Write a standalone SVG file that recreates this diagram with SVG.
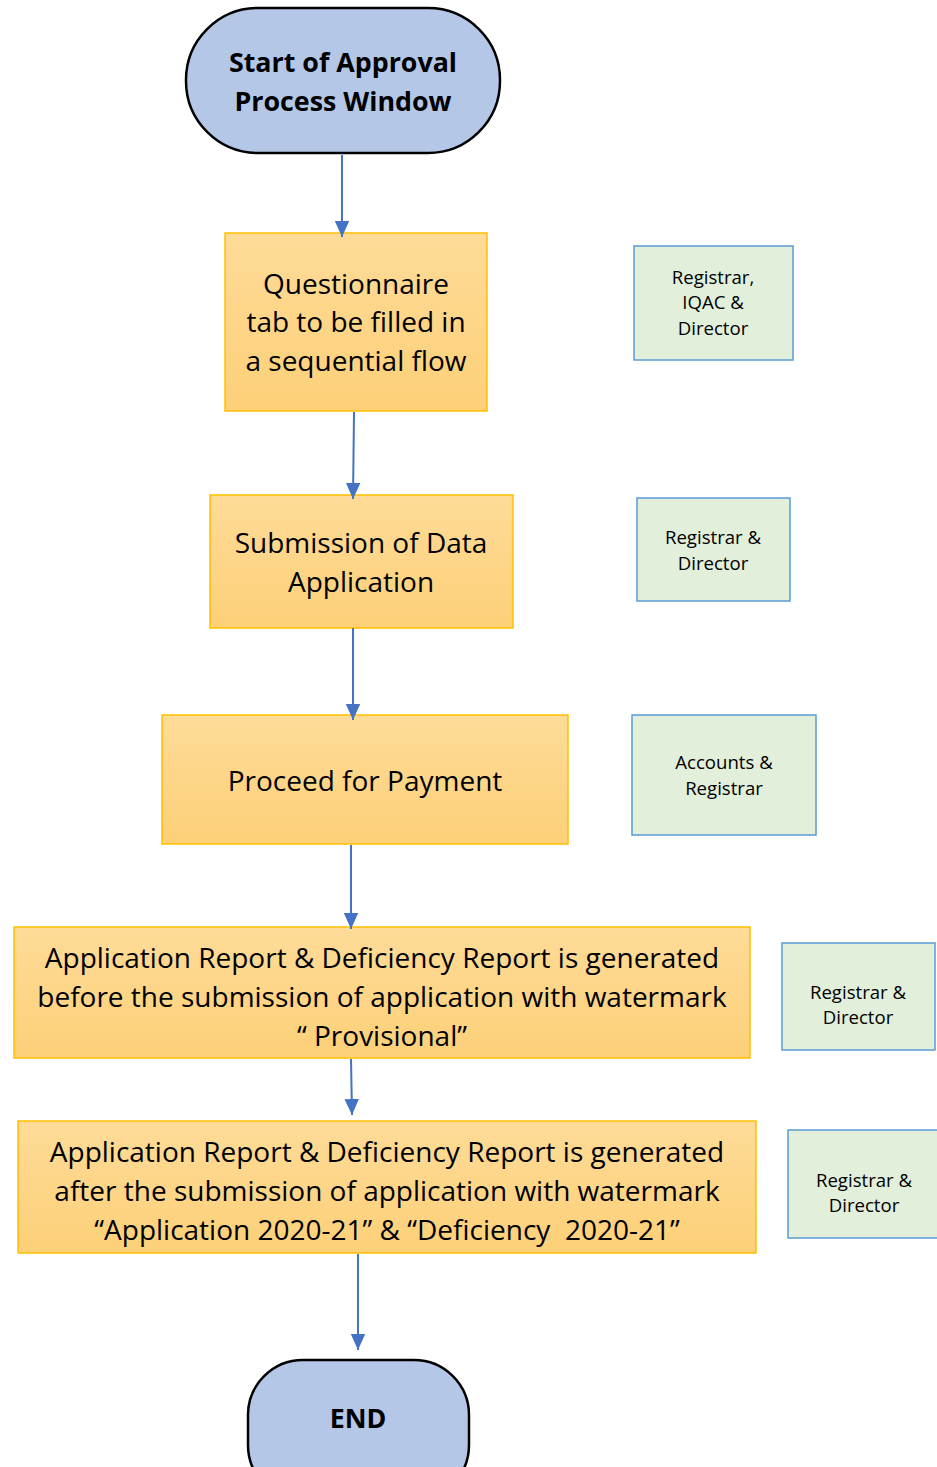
<svg xmlns="http://www.w3.org/2000/svg" width="937" height="1467" viewBox="0 0 937 1467">
  <style>
    .term { fill: #b4c7e7; stroke: #000; stroke-width: 2.5; }
    .step { fill: url(#stepFill); stroke: #ffc000; stroke-width: 1.5; }
    .role { fill: #e2efda; stroke: #5b9bd5; stroke-width: 1.5; }
    .conn { stroke: #4472c4; stroke-width: 2; fill: none; marker-end: url(#arrow); }
    text { font-family: "Open Sans", "Noto Sans", "Liberation Sans", sans-serif; fill: #000; text-anchor: middle; }
    .tt { font-size: 26.8px; font-weight: bold; }
    .st { font-size: 28px; }
    .rt { font-size: 18.6px; }
  </style>
  <defs>
    <linearGradient id="stepFill" x1="0" y1="0" x2="0" y2="1">
      <stop offset="0" stop-color="#fedb98"/>
      <stop offset="1" stop-color="#fdd078"/>
    </linearGradient>
    <marker id="arrow" viewBox="0 0 10 10" refX="10" refY="5" markerWidth="16" markerHeight="16" markerUnits="userSpaceOnUse" orient="auto">
      <path d="M0,0.5 L10,5 L0,9.5 z" fill="#4472c4"/>
    </marker>
  </defs>

  <!-- terminators -->
  <g id="start">
    <rect class="term" x="186" y="8" width="314" height="145" rx="72" ry="72"/>
    <text class="tt" x="343" y="72">Start of Approval</text>
    <text class="tt" x="343" y="111">Process Window</text>
  </g>

  <g id="end">
    <rect class="term" x="248" y="1360" width="221" height="140" rx="55" ry="55"/>
    <text class="tt" x="358" y="1428">END</text>
  </g>

  <!-- process steps -->
  <g id="questionnaire">
    <rect class="step" x="225" y="233" width="262" height="178"/>
    <text class="st" x="356" y="294">Questionnaire</text>
    <text class="st" x="356" y="332">tab to be filled in</text>
    <text class="st" x="356" y="371">a sequential flow</text>
  </g>

  <g id="submission">
    <rect class="step" x="210" y="495" width="303" height="133"/>
    <text class="st" x="361" y="553">Submission of Data</text>
    <text class="st" x="361" y="592">Application</text>
  </g>

  <g id="payment">
    <rect class="step" x="162" y="715" width="406" height="129"/>
    <text class="st" x="365" y="791">Proceed for Payment</text>
  </g>

  <g id="report-provisional">
    <rect class="step" x="14" y="927" width="736" height="131"/>
    <text class="st" x="382" y="968">Application Report &amp; Deficiency Report is generated</text>
    <text class="st" x="382" y="1007">before the submission of application with watermark</text>
    <text class="st" x="382" y="1046">“ Provisional”</text>
  </g>

  <g id="report-final">
    <rect class="step" x="18" y="1121" width="738" height="132"/>
    <text class="st" x="387" y="1162">Application Report &amp; Deficiency Report is generated</text>
    <text class="st" x="387" y="1201">after the submission of application with watermark</text>
    <text class="st" x="387" y="1240">“Application 2020-21” &amp; “Deficiency&#160; 2020-21”</text>
  </g>

  <!-- responsible roles -->
  <g id="role-questionnaire">
    <rect class="role" x="634" y="246" width="159" height="114"/>
    <text class="rt" x="713" y="284">Registrar,</text>
    <text class="rt" x="713" y="309">IQAC &amp;</text>
    <text class="rt" x="713" y="335">Director</text>
  </g>

  <g id="role-submission">
    <rect class="role" x="637" y="498" width="153" height="103"/>
    <text class="rt" x="713" y="544">Registrar &amp;</text>
    <text class="rt" x="713" y="570">Director</text>
  </g>

  <g id="role-payment">
    <rect class="role" x="632" y="715" width="184" height="120"/>
    <text class="rt" x="724" y="769">Accounts &amp;</text>
    <text class="rt" x="724" y="795">Registrar</text>
  </g>

  <g id="role-provisional">
    <rect class="role" x="782" y="943" width="153" height="107"/>
    <text class="rt" x="858" y="999">Registrar &amp;</text>
    <text class="rt" x="858" y="1024">Director</text>
  </g>

  <g id="role-final">
    <rect class="role" x="788" y="1130" width="160" height="108"/>
    <text class="rt" x="864" y="1187">Registrar &amp;</text>
    <text class="rt" x="864" y="1212">Director</text>
  </g>

  <!-- flow connectors, drawn last so the arrowheads sit over the box edges -->
  <g id="connectors">
    <path class="conn" d="M342,155 L342,237"/>
    <path class="conn" d="M354,412 L353,499"/>
    <path class="conn" d="M353,628 L353,720"/>
    <path class="conn" d="M351,845 L351,929"/>
    <path class="conn" d="M351,1059 L352,1115"/>
    <path class="conn" d="M358,1254 L358,1350"/>
  </g>
</svg>
